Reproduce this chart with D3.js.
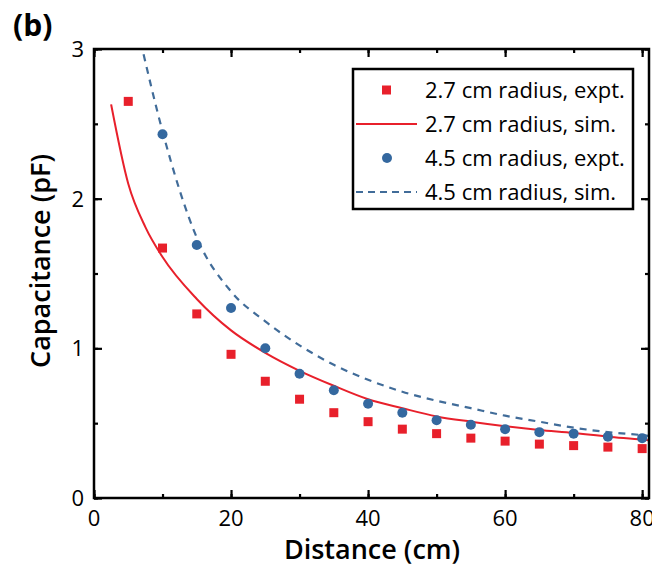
<!DOCTYPE html>
<html>
<head>
<meta charset="utf-8">
<script src="https://cdn.jsdelivr.net/npm/d3@7"></script>
<style>
  body { margin: 0; background: #fff; }
  svg { font-family: "Open Sans", "Noto Sans", sans-serif; }
</style>
</head>
<body>
<svg id="chart" width="652" height="567"></svg>
<script>
// measured points (distance in cm, capacitance in pF)
var exptX = [5, 10, 15, 20, 25, 30, 35, 40, 45, 50, 55, 60, 65, 70, 75, 80];
var small_expt = [2.65, 1.67, 1.23, 0.96, 0.78, 0.66, 0.57, 0.51, 0.46, 0.43, 0.40, 0.38, 0.36, 0.35, 0.34, 0.33];
var bigX = [10, 15, 20, 25, 30, 35, 40, 45, 50, 55, 60, 65, 70, 75, 80];
var big_expt = [2.43, 1.69, 1.27, 1.00, 0.83, 0.72, 0.63, 0.57, 0.52, 0.49, 0.46, 0.44, 0.43, 0.41, 0.40];

// simulation curves
var smallSimX = [2.5, 5, 7.5, 10, 15, 20, 25, 30, 35, 40, 45, 50, 55, 60, 65, 70, 75, 80, 81];
var small_sim = [2.63, 2.10, 1.81, 1.61, 1.33, 1.12, 0.97, 0.85, 0.75, 0.66, 0.60, 0.545, 0.51, 0.48, 0.455, 0.435, 0.41, 0.39, 0.385];
var bigSimX = [6.8, 10, 15, 20, 25, 30, 35, 40, 45, 50, 55, 60, 65, 70, 75, 80, 81];
var big_sim = [3.05, 2.45, 1.74, 1.38, 1.18, 1.02, 0.89, 0.79, 0.71, 0.65, 0.60, 0.55, 0.51, 0.47, 0.44, 0.42, 0.415];

var xTicks = [0, 20, 40, 60, 80];
var yTicks = [0, 1, 2, 3];
var names = ["2.7 cm radius, expt.", "2.7 cm radius, sim.", "4.5 cm radius, expt.", "4.5 cm radius, sim."];

var red = "#e8202b", blue = "#34689f", dashBlue = "#416c99";

// plot box (window.top is read-only, so no bare "top")
var pL = 94, pR = 649, pT = 49, pB = 498;

var svg = d3.select("#chart");

var x = d3.scaleLinear().domain([0, 81]).range([pL, pR]);
var y = d3.scaleLinear().domain([0, 3]).range([pB, pT]);

svg.append("clipPath").attr("id", "clip")
  .append("rect")
  .attr("x", pL).attr("y", pT)
  .attr("width", pR - pL).attr("height", pB - pT);

var plot = svg.append("g").attr("clip-path", "url(#clip)");

// sim lines
var line = d3.line()
  .x(function(d) { return x(d[0]); })
  .y(function(d) { return y(d[1]); })
  .curve(d3.curveMonotoneX);

plot.append("path")
  .datum(d3.zip(smallSimX, small_sim))
  .attr("d", line)
  .attr("fill", "none")
  .attr("stroke", red)
  .attr("stroke-width", 2);

plot.append("path")
  .datum(d3.zip(bigSimX, big_sim))
  .attr("d", line)
  .attr("fill", "none")
  .attr("stroke", dashBlue)
  .attr("stroke-width", 2.2)
  .attr("stroke-dasharray", "7,6");

// expt points
svg.selectAll(".sq")
  .data(d3.zip(exptX, small_expt))
  .enter().append("rect")
  .attr("class", "sq")
  .attr("x", function(d) { return x(d[0]) - 4.5; })
  .attr("y", function(d) { return y(d[1]) - 4.5; })
  .attr("width", 9).attr("height", 9)
  .attr("fill", red);

svg.selectAll(".dot")
  .data(d3.zip(bigX, big_expt))
  .enter().append("circle")
  .attr("class", "dot")
  .attr("cx", function(d) { return x(d[0]); })
  .attr("cy", function(d) { return y(d[1]); })
  .attr("r", 5)
  .attr("fill", blue);

// axes: ticks inward on all four sides
var xMinor = d3.range(0, 81, 10), yMinor = d3.range(0, 3.01, 0.5);

function ax(axisFn, scale, vals, len, transform) {
  var g = svg.append("g").attr("transform", transform)
    .call(axisFn(scale).tickValues(vals).tickSize(len).tickFormat(""));
  g.select(".domain").remove();
  g.selectAll("line").attr("stroke", "#000").attr("stroke-width", 2.2);
  return g;
}
ax(d3.axisTop, x, xMinor, 4, "translate(0," + pB + ")");
ax(d3.axisTop, x, xTicks, 8, "translate(0," + pB + ")");
ax(d3.axisBottom, x, xMinor, 4, "translate(0," + pT + ")");
ax(d3.axisBottom, x, xTicks, 8, "translate(0," + pT + ")");
ax(d3.axisRight, y, yMinor, 4, "translate(" + pL + ",0)");
ax(d3.axisRight, y, yTicks, 8, "translate(" + pL + ",0)");
ax(d3.axisLeft, y, yMinor, 4, "translate(" + pR + ",0)");
ax(d3.axisLeft, y, yTicks, 8, "translate(" + pR + ",0)");

svg.append("rect")
  .attr("x", pL).attr("y", pT)
  .attr("width", pR - pL).attr("height", pB - pT)
  .attr("fill", "none").attr("stroke", "#000").attr("stroke-width", 2.5);

// tick labels
svg.selectAll(".xl")
  .data(xTicks).enter().append("text")
  .attr("x", function(d) { return x(d); })
  .attr("y", 526)
  .attr("text-anchor", "middle")
  .attr("font-size", 22)
  .text(function(d) { return d; });

svg.selectAll(".yl")
  .data(yTicks).enter().append("text")
  .attr("x", 84)
  .attr("y", function(d) { return y(d) + 8; })
  .attr("text-anchor", "end")
  .attr("font-size", 22)
  .text(function(d) { return d; });

// axis titles
svg.append("text")
  .attr("x", 372).attr("y", 559)
  .attr("text-anchor", "middle")
  .attr("font-size", 27).attr("font-weight", 600)
  .text("Distance (cm)");

svg.append("text")
  .attr("transform", "translate(50,261) rotate(-90)")
  .attr("text-anchor", "middle")
  .attr("font-size", 27).attr("font-weight", 600)
  .text("Capacitance (pF)");

svg.append("text")
  .attr("x", 13).attr("y", 36)
  .attr("font-size", 30).attr("font-weight", "bold")
  .text("(b)");

// legend
var lg = svg.append("g");
lg.append("rect")
  .attr("x", 353).attr("y", 69)
  .attr("width", 280).attr("height", 140)
  .attr("fill", "#fff").attr("stroke", "#000").attr("stroke-width", 2.5);

var rowY = function(i) { return 90 + i * 34; };

lg.append("rect").attr("x", 382).attr("y", rowY(0) - 4.5).attr("width", 9).attr("height", 9).attr("fill", red);
lg.append("line").attr("x1", 356).attr("x2", 417).attr("y1", rowY(1)).attr("y2", rowY(1))
  .attr("stroke", red).attr("stroke-width", 2);
lg.append("circle").attr("cx", 387).attr("cy", rowY(2)).attr("r", 5).attr("fill", blue);
lg.append("line").attr("x1", 356).attr("x2", 417).attr("y1", rowY(3)).attr("y2", rowY(3))
  .attr("stroke", dashBlue).attr("stroke-width", 2).attr("stroke-dasharray", "7,5");

lg.selectAll(".legendText")
  .data(names).enter().append("text")
  .attr("class", "legendText")
  .attr("x", 425)
  .attr("y", function(d, i) { return rowY(i) + 8; })
  .attr("font-size", 22)
  .text(function(d) { return d; });
</script>
</body>
</html>
